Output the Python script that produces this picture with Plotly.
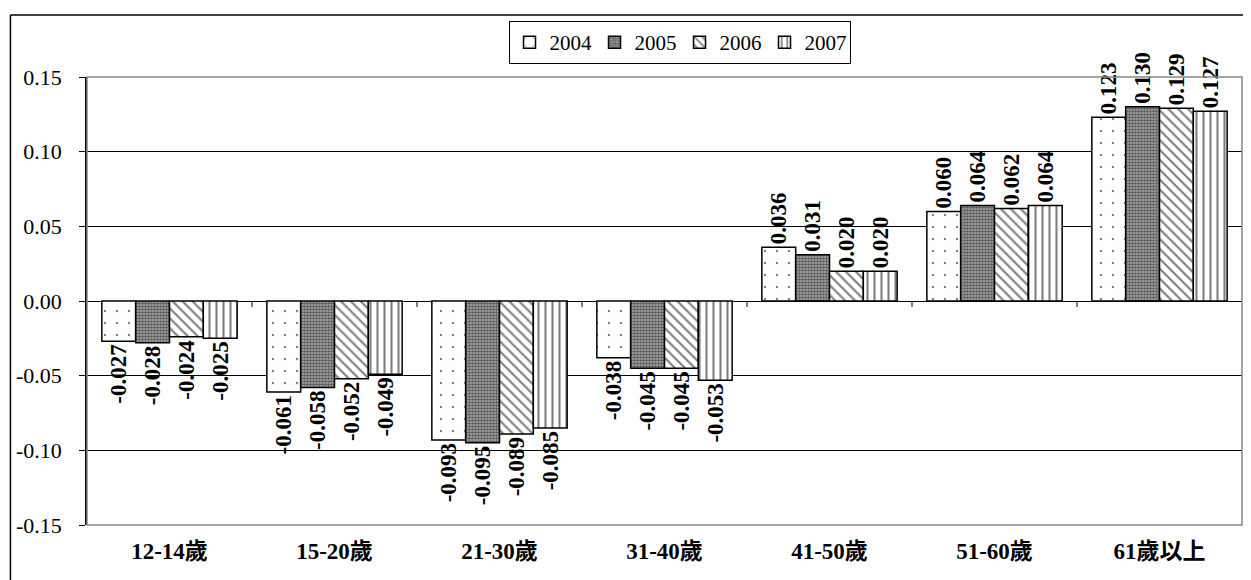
import plotly.graph_objects as go

categories = ["12-14歲", "15-20歲", "21-30歲", "31-40歲", "41-50歲", "51-60歲", "61歲以上"]
years = ["2004", "2005", "2006", "2007"]
v2004 = [-0.027, -0.061, -0.093, -0.038, 0.036, 0.060, 0.123]
v2005 = [-0.028, -0.058, -0.095, -0.045, 0.031, 0.064, 0.130]
v2006 = [-0.024, -0.052, -0.089, -0.045, 0.020, 0.062, 0.129]
v2007 = [-0.025, -0.049, -0.085, -0.053, 0.020, 0.064, 0.127]
y_ticks = [-0.15, -0.10, -0.05, 0.00, 0.05, 0.10, 0.15]

series = [v2004, v2005, v2006, v2007]
patterns = [
    dict(shape=".", size=12, solidity=0.03, fgcolor="black", bgcolor="white"),
    dict(shape=".", size=3, solidity=0.6, fgcolor="black", bgcolor="#b0b0b0"),
    dict(shape="\\", size=7, solidity=0.3, fgcolor="black", bgcolor="white"),
    dict(shape="|", size=7, solidity=0.3, fgcolor="black", bgcolor="white"),
]

FONT = "Liberation Serif, Times New Roman, Noto Sans CJK TC, serif"

fig = go.Figure()
for name, vals, pat in zip(years, series, patterns):
    fig.add_trace(go.Bar(
        x=categories, y=vals, name=name,
        marker=dict(color="white", pattern=pat, line=dict(color="black", width=1.5)),
        text=[f"{v:.3f}" for v in vals], texttemplate="%{text}",
        textposition="outside", textangle=-90,
        constraintext="none", cliponaxis=False,
        textfont=dict(family=FONT, size=23, color="black", weight="bold"),
    ))

shapes = []
# category boundary ticks on the zero line
for i in range(1, len(categories)):
    shapes.append(dict(type="line", xref="x", yref="y", x0=i - 0.5, x1=i - 0.5,
                       y0=0, y1=-0.004, line=dict(color="black", width=1)))
# plot-area border (gray)
shapes.append(dict(type="rect", xref="paper", yref="paper", x0=0, x1=1, y0=0, y1=1,
                   line=dict(color="#888888", width=1.5), layer="above"))
# outer chart frame (left and top edges visible)
shapes.append(dict(type="line", xref="paper", yref="paper", x0=-0.0663, x1=-0.0663,
                   y0=-0.2, y1=1.1386, line=dict(color="black", width=1.5)))
shapes.append(dict(type="line", xref="paper", yref="paper", x0=-0.0663, x1=1.03,
                   y0=1.1386, y1=1.1386, line=dict(color="black", width=1.5)))

fig.update_layout(
    width=1243, height=572,
    margin=dict(l=79, r=9, t=69, b=55, autoexpand=False),
    paper_bgcolor="white", plot_bgcolor="white",
    barmode="group", bargap=0.18, bargroupgap=0,
    font=dict(family=FONT, size=22, color="black"),
    showlegend=True,
    legend=dict(orientation="h", x=0.513, xanchor="center", y=1.125, yanchor="top",
                bordercolor="black", borderwidth=1, bgcolor="white",
                font=dict(family=FONT, size=21), itemwidth=30,
                entrywidth=40, entrywidthmode="pixels",
                tracegroupgap=0),
    shapes=shapes,
    xaxis=dict(showline=False, ticks="", showgrid=False, zeroline=False,
               tickfont=dict(family=FONT, size=23, weight="bold"),
               ticklabelstandoff=10, automargin=False),
    yaxis=dict(range=[-0.15, 0.15], tickvals=y_ticks,
               ticktext=[f"{t:.2f}" for t in y_ticks],
               showgrid=True, gridcolor="black", gridwidth=1,
               zeroline=True, zerolinecolor="black", zerolinewidth=1,
               showline=True, linecolor="black", linewidth=1.5,
               ticks="outside", ticklen=6, tickcolor="black",
               ticklabelstandoff=13, automargin=False,
               tickfont=dict(family=FONT, size=22)),
)

fig.write_html("out.html")
